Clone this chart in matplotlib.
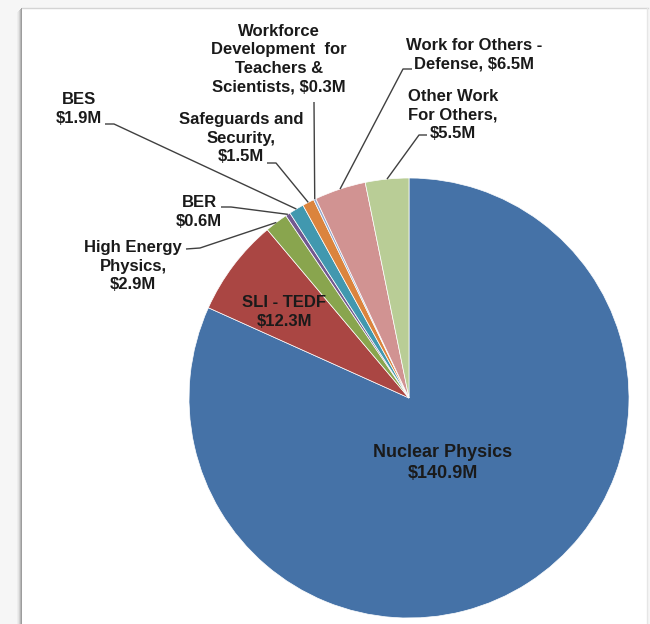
import matplotlib
matplotlib.use('Agg')
import matplotlib.pyplot as plt
from matplotlib.patches import Rectangle
import numpy as np

# FY budget breakdown, $M
categories = ['Nuclear Physics', 'SLI - TEDF', 'High Energy\nPhysics,', 'BER', 'BES',
              'Safeguards and\nSecurity,', 'Workforce\nDevelopment  for\nTeachers &\nScientists,',
              'Work for Others -\nDefense,', 'Other Work\nFor Others,']
values = [140.9, 12.3, 2.9, 0.6, 1.9, 1.5, 0.3, 6.5, 5.5]
colors = ['#4572A7', '#AA4643', '#89A54E', '#71588F', '#4198AF',
          '#DB843D', '#93A9CF', '#D19392', '#B9CD96']
# whether the amount goes on its own line
value_newline = [True, True, True, True, True, True, False, False, True]

W, H = 650, 624
cx, cy, rad = 409, 398, 220   # pie centre / radius in pixel units (y down)


def flip(x, y):
    return x, H - y


fig = plt.figure(figsize=(W / 100., H / 100.), dpi=100)
fig.patch.set_facecolor('#f6f6f6')
ax = fig.add_axes([0, 0, 1, 1])

# chart area with a soft shadow on the left and top
for i, c in enumerate(['#ededed', '#e4e4e4', '#d2d2d2', '#b6b6b6', '#9c9c9c']):
    ax.add_patch(Rectangle((17 + i, 0), 1, H - 7 - (5 - i), facecolor=c,
                           edgecolor='none', zorder=0))
ax.add_patch(Rectangle((22, 0), W - 24, H - 8, facecolor='white',
                       edgecolor='none', zorder=0))
ax.plot([22, W - 2], [H - 8, H - 8], color='#d4d4d4', lw=1, zorder=0)
ax.plot([W - 3, W - 3], [0, H - 8], color='#e6e6e6', lw=1, zorder=0)

wedges, _ = ax.pie(values, colors=colors, startangle=90, counterclock=False,
                   center=flip(cx, cy), radius=rad, frame=False,
                   wedgeprops=dict(edgecolor='white', linewidth=0.5))

ax.set_xlim(0, W)
ax.set_ylim(0, H)
ax.set_aspect('equal')
ax.axis('off')

font = dict(family=['Liberation Sans', 'DejaVu Sans'], fontweight='bold',
            color='#1a1a1a', ha='center', va='center', linespacing=1.28)

# label centres, leader elbow and leader tail (pixel units, y down)
label_pos = [(443, 463), (284, 312), (133, 266), (199, 212), (79, 109),
             (241, 138), (279, 59), (474, 55), (453, 115)]
elbows = [None, None, (200, 248), (231, 207), (114, 124),
          (276, 163), (314, 102), (403, 69), (419, 135)]
tails = [None, None, (186, 249), (221, 207), (105, 124),
         (267, 163), (314, 102), (412, 69), (427, 135)]

for i, (name, val) in enumerate(zip(categories, values)):
    sep = '\n' if value_newline[i] else ' '
    txt = (name + sep + '$%.1fM' % val).replace('$', r'\$')
    size = 13 if i == 0 else 12
    ax.text(*flip(*label_pos[i]), txt, fontsize=size, zorder=4, **font)

    if elbows[i] is None:
        continue
    w = wedges[i]
    mid = np.deg2rad(0.5 * (w.theta1 + w.theta2))
    x0 = cx + rad * np.cos(mid)
    y0 = cy - rad * np.sin(mid)
    pts = [(x0, y0), elbows[i], tails[i]]
    xs, ys = zip(*[flip(*p) for p in pts])
    ax.plot(xs, ys, color='#404040', lw=1, zorder=3, solid_capstyle='butt')

fig.savefig('out.png', dpi=100, facecolor=fig.get_facecolor())
